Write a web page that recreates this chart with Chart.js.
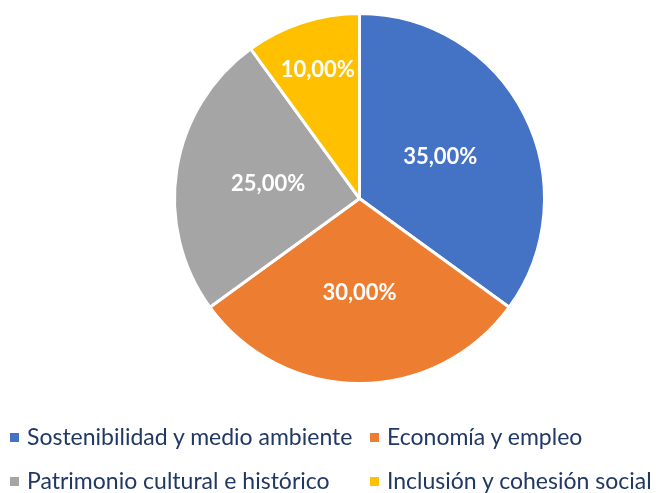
<!DOCTYPE html>
<html>
<head>
<meta charset="utf-8">
<script src="https://cdn.jsdelivr.net/npm/chart.js@4"></script>
<style>
  html, body { margin: 0; padding: 0; background: #fff; }
  #wrap { position: relative; width: 656px; height: 493px; }
  #pie { position: absolute; left: 0; top: 0; }
  .legend { position: absolute; font-family: Lato, sans-serif; font-size: 23px; color: #203864; white-space: nowrap; }
  .legend span.box { display: inline-block; width: 9px; height: 9px; margin-right: 8px; vertical-align: middle; position: relative; top: -2px; }
</style>
</head>
<body>
<div id="wrap">
  <canvas id="pie" width="656" height="493"></canvas>
  <div id="legend"></div>
</div>
<script>
const categories = ['Sostenibilidad y medio ambiente', 'Economía y empleo', 'Patrimonio cultural e histórico', 'Inclusión y cohesión social'];
const shares = [35, 30, 25, 10];
const sliceColors = ['#4472C4', '#ED7D31', '#A5A5A5', '#FFC000'];

// labels inside slices, Excel style "35,00%"
const sliceLabels = {
    id: 'sliceLabels',
    afterDatasetsDraw(chart, args, opts) {
        const ctx = chart.ctx;
        const meta = chart.getDatasetMeta(0);
        ctx.save();
        ctx.font = 'bold 22px Lato, sans-serif';
        ctx.fillStyle = '#fff';
        ctx.textAlign = 'center';
        ctx.textBaseline = 'middle';
        meta.data.forEach((arc, i) => {
            const mid = (arc.startAngle + arc.endAngle) / 2;
            const r = arc.outerRadius * opts.radius[i];
            const x = arc.x + Math.cos(mid) * r;
            const y = arc.y + Math.sin(mid) * r;
            ctx.fillText(shares[i].toFixed(2).replace('.', ',') + '%', x, y);
        });
        ctx.restore();
    }
};

const ctx = document.getElementById('pie').getContext('2d');
new Chart(ctx, {
    type: 'pie',
    data: {
        labels: categories,
        datasets: [{
            data: shares,
            backgroundColor: sliceColors,
            borderColor: '#fff',
            borderWidth: 3,
        }],
    },
    options: {
        responsive: false,
        animation: false,
        layout: { padding: { left: 173, right: 110, top: 12, bottom: 108 } },
        plugins: {
            legend: { display: false },
            tooltip: { enabled: false },
            sliceLabels: { radius: [0.49, 0.51, 0.5, 0.73] },
        },
    },
    plugins: [sliceLabels],
});

// two-column legend below the pie
const legendPos = [[10, 422], [370, 422], [10, 466], [370, 466]];
const legend = document.getElementById('legend');
categories.forEach((name, i) => {
    const div = document.createElement('div');
    div.className = 'legend';
    div.style.left = legendPos[i][0] + 'px';
    div.style.top = legendPos[i][1] + 'px';
    div.innerHTML = '<span class="box" style="background:' + sliceColors[i] + '"></span>' + name;
    legend.appendChild(div);
});
</script>
</body>
</html>
